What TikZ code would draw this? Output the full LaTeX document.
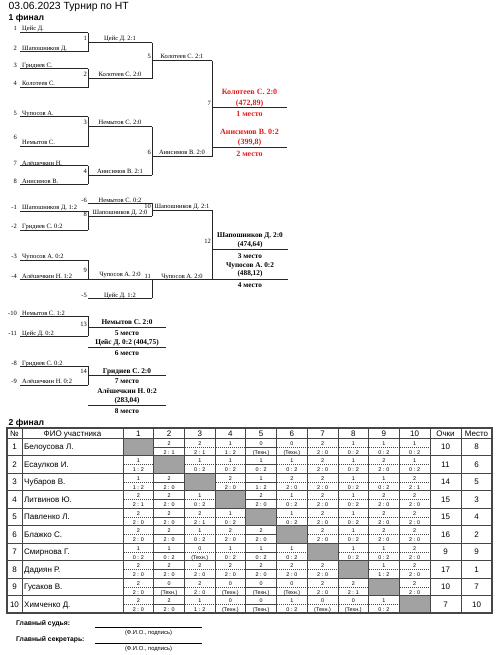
\documentclass[tikz,border=0pt]{standalone}
\usepackage{fontspec}
\setmainfont{Liberation Serif}
\newfontfamily\arialf{Liberation Sans}
\newfontfamily\timesf{Liberation Serif}
\definecolor{redtxt}{RGB}{225,30,30}
\definecolor{cellgray}{RGB}{162,162,162}
\definecolor{gridc}{RGB}{70,70,70}
\tikzset{
  T/.style={inner sep=0pt, text height=0.6em, text depth=0pt, font=\timesf\fontsize{6.5}{7}\selectfont},
  TB/.style={T, font=\timesf\bfseries\fontsize{7.3}{8}\selectfont},
  TR/.style={T, font=\timesf\bfseries\fontsize{8}{9}\selectfont, text=redtxt},
  bl/.style={line width=1pt, draw=black!85},
  A/.style={inner sep=0pt, text height=0.6em, text depth=0pt, font=\arialf\fontsize{8}{9}\selectfont},
  AS/.style={inner sep=0pt, text height=0.6em, text depth=0pt, font=\arialf\fontsize{5.4}{6}\selectfont},
  gridl/.style={draw=gridc, line width=0.75pt},
  dsh/.style={draw=gridc, line width=0.5pt, dash pattern=on 1.2pt off 0.8pt},
}
\newcommand\plrow[5]{%
  \node[T,anchor=east] (s#1) at (17,#4) {#2};
  \node[T,anchor=west] (n#1) at (22,#4) {#3};
  \draw[bl] (20,#5) -- (88,#5);
}
\begin{document}
\begin{tikzpicture}[x=1pt,y=-1pt]
\useasboundingbox (0,0) rectangle (500,655);
\fill[white] (0,0) rectangle (500,655);
\node[A, anchor=west, font=\arialf\fontsize{10.4}{12}\selectfont] (title) at (8.5,6.5) {03.06.2023 Турнир по НТ};
\node[A, anchor=west, font=\arialf\bfseries\fontsize{8.6}{10}\selectfont] (fin1) at (8.5,18) {1 финал};

% ---------- upper bracket
\plrow{p1}{1}{Цейс Д.}{28}{33}
\plrow{p2}{2}{Шапошников Д.}{48}{52}
\plrow{p3}{3}{Гридиев С.}{65}{69}
\plrow{p4}{4}{Колотеев С.}{83}{88}
\plrow{p5}{5}{Чупосов А.}{113}{117}
\node[T,anchor=east] (sp6) at (17,137) {6};
\node[T,anchor=west] (np6) at (22,142) {Немытов С.};
\draw[bl] (20,147) -- (88,147);
\plrow{p7}{7}{Алёшечкин Н.}{162}{166}
\plrow{p8}{8}{Анисимов В.}{180}{184}

\draw[bl] (88,33) -- (88,52);
\draw[bl] (88,43) -- (152,43);
\node[T,anchor=east] (m1) at (87,38) {1};
\node[T] (w1) at (120,38) {Цейс Д. 2:1};

\draw[bl] (88,69) -- (88,88);
\draw[bl] (88,79) -- (152,79);
\node[T,anchor=east] (m2) at (87,73.5) {2};
\node[T] (w2) at (120,74) {Колотеев С. 2:0};

\draw[bl] (152,43) -- (152,79);
\draw[bl] (152,61) -- (212,61);
\node[T,anchor=east] (m5) at (151,56) {5};
\node[T] (w5) at (182,56) {Колотеев С. 2:1};

\draw[bl] (88,117) -- (88,147);
\draw[bl] (88,127) -- (152,127);
\node[T,anchor=east] (m3) at (87,122) {3};
\node[T] (w3) at (120,122) {Немытов С. 2:0};

\draw[bl] (88,166) -- (88,184);
\draw[bl] (88,175) -- (152,175);
\node[T,anchor=east] (m4) at (87,170) {4};
\node[T] (w4) at (120,170) {Анисимов В. 2:1};

\draw[bl] (152,127) -- (152,175);
\draw[bl] (152,157) -- (212,157);
\node[T,anchor=east] (m6) at (151,152) {6};
\node[T] (w6) at (182,152) {Анисимов В. 2:0};

\draw[bl] (212,61) -- (212,157);
\draw[bl] (212,108) -- (287,108);
\draw[bl] (212,148) -- (287,148);
\node[T,anchor=east] (m7) at (211,103) {7};
\node[TR] (r1a) at (249.5,92) {Колотеев С. 2:0};
\node[TR] (r1b) at (249.5,102.5) {(472,89)};
\node[TR] (r1c) at (249.5,113.5) {1 место};
\node[TR] (r2a) at (249.5,132) {Анисимов В. 0:2};
\node[TR] (r2b) at (249.5,142) {(399,8)};
\node[TR] (r2c) at (249.5,153.5) {2 место};

% ---------- lower bracket
\node[T,anchor=east] (sm6) at (87,199) {-6};
\node[T] (lm6) at (120,199) {Немытов С. 0:2};
\draw[bl] (88,203) -- (152,203);
\plrow{q1}{-1}{Шапошников Д. 1:2}{206}{211}
\plrow{q2}{-2}{Гридиев С. 0:2}{225}{230}

\draw[bl] (88,211) -- (88,230);
\draw[bl] (88,216) -- (152,216);
\node[T,anchor=east] (m8) at (87,213) {8};
\node[T] (w8) at (120,211.5) {Шапошников Д. 2:0};

\draw[bl] (152,203) -- (152,216);
\draw[bl] (152,210) -- (212,210);
\node[T,anchor=east] (m10) at (151,205.5) {10};
\node[T] (w10) at (182,205.5) {Шапошников Д. 2:1};

\plrow{q3}{-3}{Чупосов А. 0:2}{255}{260}
\plrow{q4}{-4}{Алёшечкин Н. 1:2}{275}{279}
\draw[bl] (88,260) -- (88,279);
\draw[bl] (88,279) -- (152,279);
\node[T,anchor=east] (m9) at (87,269) {9};
\node[T] (w9) at (120,273) {Чупосов А. 2:0};

\node[T,anchor=east] (sm5) at (87,294) {-5};
\node[T] (lm5) at (120,294) {Цейс Д. 1:2};
\draw[bl] (88,298) -- (152,298);

\draw[bl] (152,279) -- (152,298);
\draw[bl] (152,279) -- (212,279);
\node[T,anchor=east] (m11) at (151,275) {11};
\node[T] (w11) at (182,275) {Чупосов А. 2:0};

\draw[bl] (212,210) -- (212,279);
\draw[bl] (212,249.5) -- (288,249.5);
\draw[bl] (212,279) -- (288,279);
\node[T,anchor=east] (m12) at (211,240) {12};
\node[TB] (b3a) at (250,234.5) {Шапошников Д. 2:0};
\node[TB] (b3b) at (250,243) {(474,64)};
\node[TB] (b3c) at (250,255) {3 место};
\node[TB] (b4a) at (250,264) {Чупосов А. 0:2};
\node[TB] (b4b) at (250,272.5) {(488,12)};
\node[TB] (b4c) at (250,284.5) {4 место};

\plrow{q10}{-10}{Немытов С. 1:2}{312}{316}
\plrow{q11}{-11}{Цейс Д. 0:2}{332}{336}
\draw[bl] (88,316) -- (88,336);
\draw[bl] (88,327) -- (166,327);
\draw[bl] (88,347) -- (166,347);
\node[T,anchor=east] (m13) at (87,323) {13};
\node[TB] (b5a) at (127,321.5) {Немытов С. 2:0};
\node[TB] (b5b) at (127,332.5) {5 место};
\node[TB] (b6a) at (127,341.5) {Цейс Д. 0:2 (404,75)};
\node[TB] (b6b) at (127,352.5) {6 место};

\plrow{q8}{-8}{Гридиев С. 0:2}{362}{366}
\plrow{q9}{-9}{Алёшечкин Н. 0:2}{380}{385}
\draw[bl] (88,366) -- (88,385);
\draw[bl] (88,375) -- (166,375);
\draw[bl] (88,405.5) -- (166,405.5);
\node[T,anchor=east] (m14) at (87,370) {14};
\node[TB] (b7a) at (127,370) {Гридиев С. 2:0};
\node[TB] (b7b) at (127,380.5) {7 место};
\node[TB] (b8a) at (127,390) {Алёшечкин Н. 0:2};
\node[TB] (b8b) at (127,399) {(283,04)};
\node[TB] (b8c) at (127,410.5) {8 место};

% ---------- table
\node[A, anchor=west, font=\arialf\bfseries\fontsize{8.6}{10}\selectfont] (fin2) at (8.5,422) {2 финал};
\foreach \r in {1,...,10}
  \fill[cellgray] ({123+30.7*(\r-1)},{438+17.5*(\r-1)}) rectangle ++(30.7,17.5);
\foreach \y in {428,438,455.5,473,490.5,508,525.5,543,560.5,578,595.5,613}
  \draw[gridl] (7,\y) -- (492,\y);
\foreach \x in {7,22,123,153.7,184.4,215.1,245.8,276.5,307.2,337.9,368.6,399.3,430,461,492}
  \draw[gridl] (\x,428) -- (\x,613);
\draw[draw=gridc, line width=1.4pt] (7,428) rectangle (492,613);

\node[A] (hno) at (14.5,433) {№};
\node[A] (hname) at (72.5,433) {ФИО участника};
\foreach \c in {1,...,10}
  \node[A] (h\c) at ({138.35+30.7*(\c-1)},433) {\c};
\node[A] (hpts) at (445.5,433) {Очки};
\node[A] (hpl) at (476.5,433) {Место};

\foreach \r/\nm/\pts/\plc in {1/Белоусова Л./10/8, 2/Есаулков И./11/6, 3/Чубаров В./14/5, 4/Литвинов Ю./15/3, 5/Павленко Л./15/4, 6/Блажко С./16/2, 7/Смирнова Г./9/9, 8/Дадиян Р./17/1, 9/Гусаков В./10/7, 10/Химченко Д./7/10}{
  \node[A] (no\r) at (14.5,{438+17.5*(\r-1)+8.75}) {\r};
  \node[A,anchor=west] (nm\r) at (24,{438+17.5*(\r-1)+8.75}) {\nm};
  \node[A] (pt\r) at (445.5,{438+17.5*(\r-1)+8.75}) {\pts};
  \node[A] (pl\r) at (476.5,{438+17.5*(\r-1)+8.75}) {\plc};
}

\foreach \r/\cells in {
 1/{-/-,2/2 : 1,2/2 : 1,1/1 : 2,0/(Техн.),0/(Техн.),2/2 : 0,1/0 : 2,1/0 : 2,1/0 : 2},
 2/{1/1 : 2,-/-,1/0 : 2,1/0 : 2,1/0 : 2,1/0 : 2,2/2 : 0,1/0 : 2,2/2 : 0,1/0 : 2},
 3/{1/1 : 2,2/2 : 0,-/-,2/2 : 0,1/1 : 2,2/2 : 0,2/2 : 0,1/0 : 2,1/0 : 2,2/2 : 1},
 4/{2/2 : 1,2/2 : 0,1/0 : 2,-/-,2/2 : 0,1/0 : 2,2/2 : 0,1/0 : 2,2/2 : 0,2/2 : 0},
 5/{2/2 : 0,2/2 : 0,2/2 : 1,1/0 : 2,-/-,1/0 : 2,2/2 : 0,1/0 : 2,2/2 : 0,2/2 : 0},
 6/{2/2 : 0,2/2 : 0,1/0 : 2,2/2 : 0,2/2 : 0,-/-,2/2 : 0,1/0 : 2,2/2 : 0,2/2 : 0},
 7/{1/0 : 2,1/0 : 2,0/(Техн.),1/0 : 2,1/0 : 2,1/0 : 2,-/-,1/0 : 2,1/0 : 2,2/2 : 0},
 8/{2/2 : 0,2/2 : 0,2/2 : 0,2/2 : 0,2/2 : 0,2/2 : 0,2/2 : 0,-/-,1/1 : 2,2/2 : 0},
 9/{2/2 : 0,0/(Техн.),2/2 : 0,0/(Техн.),0/(Техн.),0/(Техн.),2/2 : 0,2/2 : 1,-/-,2/2 : 0},
 10/{2/2 : 0,2/2 : 0,1/1 : 2,0/(Техн.),0/(Техн.),1/0 : 2,0/(Техн.),0/(Техн.),1/0 : 2,-/-}}{
  \foreach \tp/\bt [count=\c] in \cells {
    \ifnum\c=\r\relax\else
      \draw[dsh] ({123+30.7*(\c-1)+0.6},{438+17.5*(\r-1)+9}) -- ++(29.5,0);
      \node[AS] (c\r-\c-a) at ({138.35+30.7*(\c-1)},{438+17.5*(\r-1)+4.4}) {\tp};
      \node[AS] (c\r-\c-b) at ({138.35+30.7*(\c-1)},{438+17.5*(\r-1)+13.4}) {\bt};
    \fi
  }
}

% ---------- footer
\node[A, anchor=west, font=\arialf\bfseries\fontsize{6.8}{7}\selectfont] (judge) at (16,622) {Главный судья:};
\draw[line width=0.8pt] (95,627) -- (202,627);
\node[AS, font=\arialf\fontsize{5.8}{6}\selectfont] (sig1) at (148.5,631) {(Ф.И.О., подпись)};
\node[A, anchor=west, font=\arialf\bfseries\fontsize{6.8}{7}\selectfont] (secr) at (16,638) {Главный секретарь:};
\draw[line width=0.8pt] (95,643) -- (202,643);
\node[AS, font=\arialf\fontsize{5.8}{6}\selectfont] (sig2) at (148.5,647) {(Ф.И.О., подпись)};
\end{tikzpicture}
\end{document}
